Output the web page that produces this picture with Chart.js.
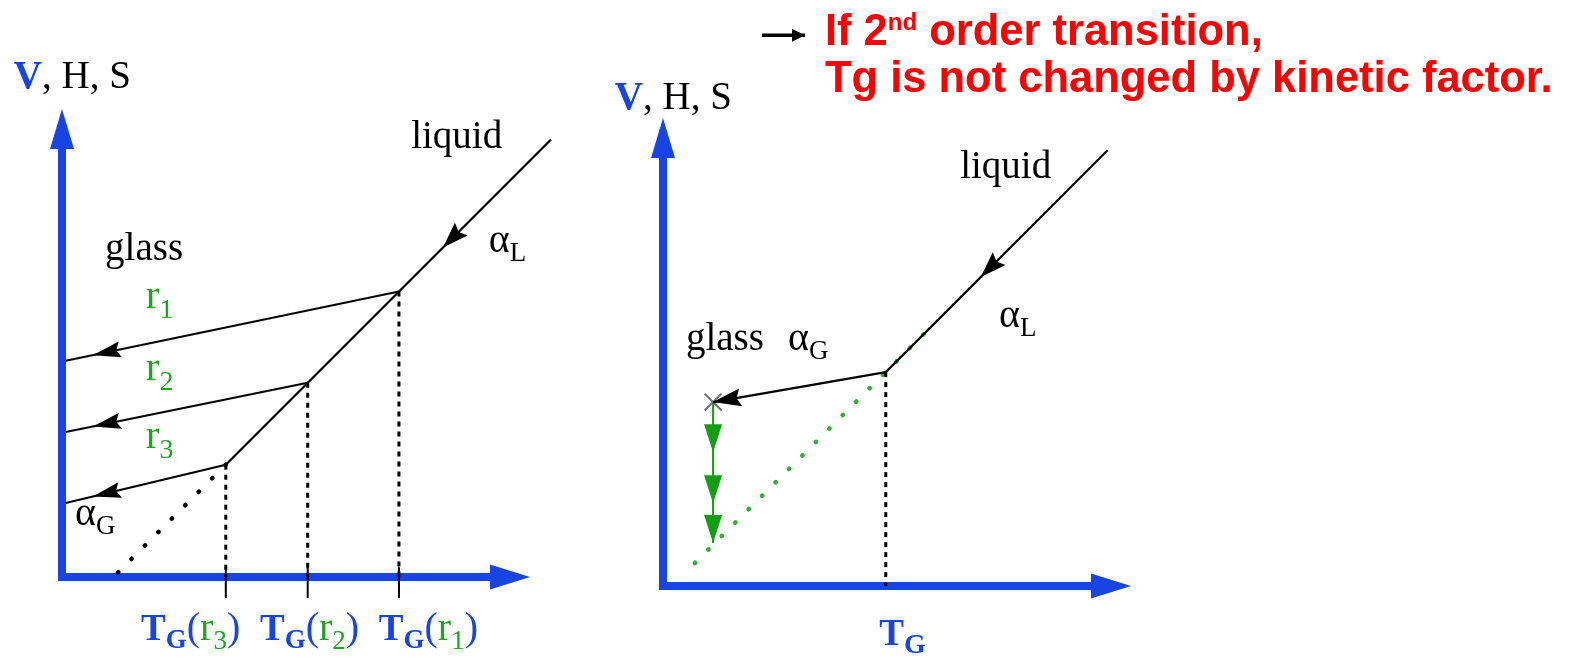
<!DOCTYPE html>
<html>
<head>
<meta charset="utf-8">
<script src="https://cdn.jsdelivr.net/npm/chart.js@4.4.1/dist/chart.umd.min.js"></script>
<style>
  html, body { margin: 0; padding: 0; background: #fff; }
  body { width: 1578px; height: 660px; position: relative; overflow: hidden; }
  canvas { position: absolute; top: 0; }
  #left { left: 0; }
  #right { left: 590px; }
</style>
</head>
<body>
<canvas id="left" width="590" height="660"></canvas>
<canvas id="right" width="988" height="660"></canvas>
<script>
// ---------- Left diagram: glass formed at three cooling rates r1 > r2 > r3 ----------
const RATES = ['1', '2', '3'];
const TG_BY_RATE = [7.2, 5.25, 3.5];          // T_G(r) on the temperature axis
const V_AT_TG = [6.1, 4.15, 2.4];             // V where the glass line leaves the liquid line
const GLASS_V_AT_AXIS = [4.62, 3.10, 1.58];   // glass line value at the V axis
const GLASS_T_AT_AXIS = 0.08;
const LIQUID_START_L = [10.45, 9.35];
const SUPERCOOLED_END_L = [1.15, 0.05];       // dotted extension of the liquid line
const TICK_SPAN = [0.21, -0.45];
const LIQUID_ARROW_T_L = 8.14;
const GLASS_ARROW_T_L = 0.66;

// ---------- Right diagram: Tg as a 2nd order transition ----------
const TG_2ND = 4.76;
const V_AT_TG_2ND = 4.57;
const LIQUID_START_R = [9.5, 9.31];
const GLASS_END_R = [1.07, 3.93];             // glass reached on cooling (x)
const RELAX_V = [3.93, 2.86, 1.77, 0.92];     // relaxation steps at constant T
const EXTRAPOLATED_R = [[0.68, 0.49], [5.81, 5.62]];
const LIQUID_ARROW_T_R = 6.79;
const NOTE_ARROW_T = [2.115, 3.034];
const NOTE_ARROW_V = 11.77;

const AXIS_LENGTH = 10;

// ---------- styling ----------
const BLUE = '#1844e6';
const INK = '#000000';
const GREEN_TXT = '#22a322';
const GREEN_ARROW = '#12a012';
const GREEN_DOTS = '#2fb02f';
const RED = '#ff0000';
const SERIF = '"Liberation Serif", "Times New Roman", serif';
const SANS = '"Liberation Sans", Arial, sans-serif';
const UNIT = 46.8;   // pixels per data unit on both axes

const f = (size, weight) => `${weight || 'normal'} ${size}px ${SERIF}`;

function pt(p) { return { x: p[0], y: p[1] }; }
function line(points, style) {
  return Object.assign({
    data: points.map(pt), showLine: true, borderColor: INK, borderWidth: 2,
    pointRadius: 0, fill: false, tension: 0, borderCapStyle: 'butt'
  }, style);
}

function drawHead(ctx, tx, ty, ux, uy, len, half, notch, color) {
  const bx = tx - ux * len, by = ty - uy * len;
  const nx = -uy, ny = ux;
  const k = 1 - (notch || 0);
  ctx.beginPath();
  ctx.moveTo(tx, ty);
  ctx.lineTo(bx + nx * half, by + ny * half);
  ctx.lineTo(tx - ux * len * k, ty - uy * len * k);
  ctx.lineTo(bx - nx * half, by - ny * half);
  ctx.closePath();
  ctx.fillStyle = color;
  ctx.fill();
}

// Draws the blue axes with arrowheads, the arrowheads on data lines, and the text labels.
const diagramPlugin = {
  id: 'diagram',
  beforeDatasetsDraw(chart) {
    const { ctx, scales: { x, y } } = chart;
    const ox = x.getPixelForValue(0), oy = y.getPixelForValue(0);
    const xt = x.getPixelForValue(AXIS_LENGTH), yt = y.getPixelForValue(AXIS_LENGTH);
    ctx.save();
    ctx.strokeStyle = BLUE;
    ctx.lineWidth = 8;
    ctx.lineCap = 'butt';
    ctx.beginPath();
    ctx.moveTo(ox, oy + 4); ctx.lineTo(ox, yt + 36);
    ctx.moveTo(ox - 4, oy); ctx.lineTo(xt - 36, oy);
    ctx.stroke();
    drawHead(ctx, ox, yt, 0, -1, 40, 12, 0, BLUE);
    drawHead(ctx, xt, oy, 1, 0, 40, 12.5, 0, BLUE);
    ctx.restore();
  },
  afterDatasetsDraw(chart, args, opts) {
    const { ctx, scales: { x, y } } = chart;
    ctx.save();
    chart.data.datasets.forEach(ds => {
      (ds.heads || []).forEach(h => {
        const s = h.seg !== undefined ? h.seg : (h.atX !== undefined ? 0 : ds.data.length - 2);
        const a = ds.data[s], b = ds.data[s + 1];
        const ax = x.getPixelForValue(a.x), ay = y.getPixelForValue(a.y);
        const bx = x.getPixelForValue(b.x), by = y.getPixelForValue(b.y);
        const L = Math.hypot(bx - ax, by - ay);
        const ux = (bx - ax) / L, uy = (by - ay) / L;
        let tx = bx, ty = by;
        if (h.atX !== undefined) {
          const t = (h.atX - a.x) / (b.x - a.x);
          tx = ax + (bx - ax) * t; ty = ay + (by - ay) * t;
        }
        drawHead(ctx, tx, ty, ux, uy, h.len, h.half, h.notch, ds.borderColor);
      });
    });
    ctx.textBaseline = 'alphabetic';
    ctx.textAlign = 'left';
    (opts.labels || []).forEach(lb => {
      let px = x.getPixelForValue(lb.x);
      const py = y.getPixelForValue(lb.y);
      lb.runs.forEach(r => {
        ctx.font = r.font;
        ctx.fillStyle = r.color || INK;
        ctx.fillText(r.text, px, py + (r.dy || 0));
        px += ctx.measureText(r.text).width + (r.gap || 0);
      });
    });
    ctx.restore();
  }
};

function makeChart(id, originX, originY, datasets, labels) {
  const cv = document.getElementById(id);
  const w = cv.width, h = cv.height;
  return new Chart(cv, {
    type: 'scatter',
    data: { datasets },
    options: {
      responsive: false, maintainAspectRatio: false, devicePixelRatio: 1,
      animation: false, events: [],
      layout: { padding: 0, autoPadding: false },
      elements: { point: { radius: 0 } },
      scales: {
        x: { type: 'linear', display: false, min: -originX / UNIT, max: (w - originX) / UNIT },
        y: { type: 'linear', display: false, min: (originY - h) / UNIT, max: originY / UNIT }
      },
      plugins: { legend: { display: false }, tooltip: { enabled: false }, diagram: { labels } }
    },
    plugins: [diagramPlugin]
  });
}

// ---------- left chart ----------
const leftSets = [];
leftSets.push(line([LIQUID_START_L, [TG_BY_RATE[2], V_AT_TG[2]]],
  { borderWidth: 2.2, heads: [{ atX: LIQUID_ARROW_T_L, len: 26, half: 9, notch: 0.15 }] }));
TG_BY_RATE.forEach((tg, i) => {
  leftSets.push(line([[tg, V_AT_TG[i]], [GLASS_T_AT_AXIS, GLASS_V_AT_AXIS[i]]],
    { borderWidth: 2, heads: [{ atX: GLASS_ARROW_T_L, len: 28, half: 8, notch: 0.15 }] }));
  leftSets.push(line([[tg, V_AT_TG[i]], [tg, 0]], { borderWidth: 3, borderDash: [5, 5] }));
  leftSets.push(line([[tg, TICK_SPAN[0]], [tg, TICK_SPAN[1]]], { borderWidth: 2 }));
});
leftSets.push(line([[TG_BY_RATE[2], V_AT_TG[2]], SUPERCOOLED_END_L],
  { borderWidth: 4.5, borderDash: [0.5, 18.5], borderCapStyle: 'round' }));

const rateLabelV = [5.75, 4.21, 2.76];
const tgLabelT = [1.69, 4.23, 6.77];
const leftLabels = [
  { x: -1.03, y: 10.45, runs: [{ text: 'V', font: f(39, 'bold'), color: BLUE }, { text: ', H, S', font: f(39) }] },
  { x: 7.46, y: 9.17, runs: [{ text: 'liquid', font: f(39) }] },
  { x: 9.12, y: 6.95, runs: [{ text: 'α', font: f(40) }, { text: 'L', font: f(27), dy: 9 }] },
  { x: 0.92, y: 6.77, runs: [{ text: 'glass', font: f(39) }] },
  { x: 0.28, y: 1.11, runs: [{ text: 'α', font: f(40) }, { text: 'G', font: f(27), dy: 9 }] }
];
RATES.forEach((r, i) => {
  leftLabels.push({ x: 1.79, y: rateLabelV[i], runs: [
    { text: 'r', font: f(41), color: GREEN_TXT }, { text: r, font: f(28), color: GREEN_TXT, dy: 10 }] });
});
// T_G(r3), T_G(r2), T_G(r1) from left to right
[2, 1, 0].forEach(i => {
  leftLabels.push({ x: tgLabelT[2 - i], y: -1.35, runs: [
    { text: 'T', font: f(37, 'bold'), color: BLUE },
    { text: 'G', font: f(27, 'bold'), color: BLUE, dy: 8 },
    { text: '(', font: f(40), color: BLUE },
    { text: 'r', font: f(40), color: GREEN_TXT },
    { text: RATES[i], font: f(27), color: GREEN_TXT, dy: 9 },
    { text: ')', font: f(40), color: BLUE }] });
});

makeChart('left', 62, 577, leftSets, leftLabels);

// ---------- right chart ----------
const rightSets = [];
rightSets.push(line([LIQUID_START_R, [TG_2ND, V_AT_TG_2ND]],
  { borderWidth: 2.2, heads: [{ atX: LIQUID_ARROW_T_R, len: 26, half: 9, notch: 0.15 }] }));
rightSets.push(line([[TG_2ND, V_AT_TG_2ND], GLASS_END_R],
  { borderWidth: 2.2, heads: [{ len: 28, half: 9, notch: 0.15 }] }));
rightSets.push({ data: [pt(GLASS_END_R)], showLine: false, pointStyle: 'crossRot', pointRadius: 12,
  pointBorderColor: '#6e6e6e', pointBackgroundColor: 'rgba(0,0,0,0)', pointBorderWidth: 2, borderColor: '#6e6e6e' });
rightSets.push(line(RELAX_V.map(v => [GLASS_END_R[0], v]),
  { borderColor: GREEN_ARROW, borderWidth: 2,
    heads: [{ seg: 0, len: 28, half: 9 }, { seg: 1, len: 28, half: 9 }, { seg: 2, len: 28, half: 9 }] }));
rightSets.push(line([[TG_2ND, V_AT_TG_2ND], [TG_2ND, 0]], { borderWidth: 3, borderDash: [5, 5] }));
rightSets.push(line(EXTRAPOLATED_R,
  { borderColor: GREEN_DOTS, borderWidth: 4.5, borderDash: [0.5, 18.5], borderCapStyle: 'round' }));
rightSets.push(line([[NOTE_ARROW_T[0], NOTE_ARROW_V], [NOTE_ARROW_T[1], NOTE_ARROW_V]],
  { borderWidth: 3.5, heads: [{ len: 13, half: 6.5 }] }));

const bold43 = `bold 43.5px ${SANS}`;
const rightLabels = [
  { x: -1.03, y: 10.19, runs: [{ text: 'V', font: f(39, 'bold'), color: BLUE }, { text: ', H, S', font: f(39) }] },
  { x: 6.35, y: 8.72, runs: [{ text: 'liquid', font: f(39) }] },
  { x: 7.18, y: 5.53, runs: [{ text: 'α', font: f(40) }, { text: 'L', font: f(27), dy: 9 }] },
  { x: 0.49, y: 5.04, runs: [{ text: 'glass', font: f(39) }] },
  { x: 2.67, y: 5.04, runs: [{ text: 'α', font: f(40) }, { text: 'G', font: f(27), dy: 9 }] },
  { x: 4.62, y: -1.26, runs: [{ text: 'T', font: f(37, 'bold'), color: BLUE }, { text: 'G', font: f(28, 'bold'), color: BLUE, dy: 8 }] },
  { x: 3.46, y: 11.56, runs: [
    { text: 'If 2', font: bold43, color: RED },
    { text: 'nd', font: `bold 24px ${SANS}`, color: RED, dy: -15 },
    { text: ' order transition,', font: bold43, color: RED }] },
  { x: 3.46, y: 10.56, runs: [{ text: 'Tg is not changed by kinetic factor.', font: bold43, color: RED }] }
];

makeChart('right', 73, 586, rightSets, rightLabels);
</script>
</body>
</html>
